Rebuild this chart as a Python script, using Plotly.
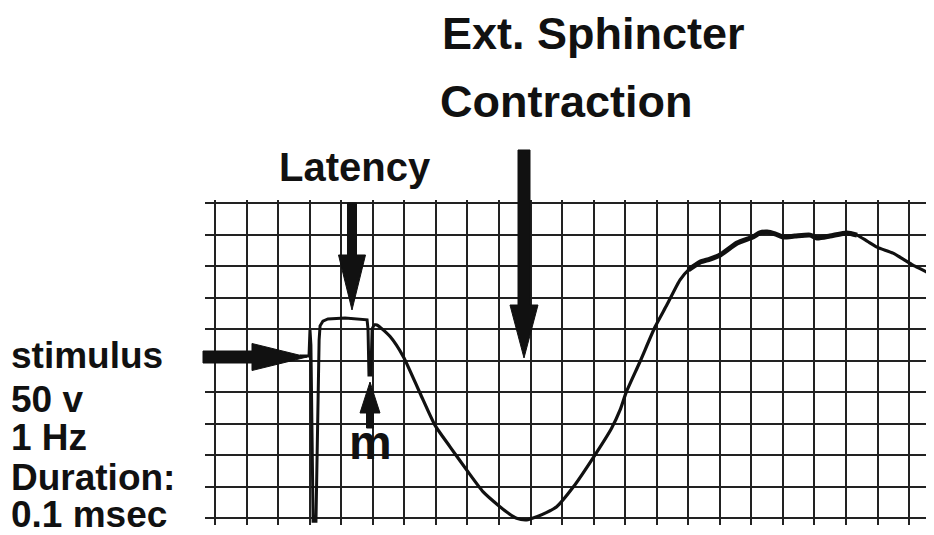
import plotly.graph_objects as go

# ---- data (grid divisions) ----
time_div = [2.69, 2.98, 3.01, 3.04, 3.11, 3.20, 3.30, 3.33, 3.42, 3.58, 4.12, 4.60, 4.82, 4.85,
            4.88, 4.94, 4.98, 5.04, 5.13, 5.55, 5.97, 6.50, 6.97, 7.45, 7.98, 8.50, 9.03,
            9.30, 9.56, 9.88, 10.20, 10.50, 10.83, 11.36, 12.01, 12.57, 12.84, 13.03, 13.47,
            13.95, 14.32, 14.74, 15.00, 15.37, 15.69, 16.01, 16.55, 17.05, 17.27, 17.50,
            17.75, 18.00, 18.38, 18.86, 19.08, 19.49, 20.03, 20.35, 20.67, 20.98, 21.49, 21.81,
            22.12, 22.44, 22.79]
amp_div = [5.14, 5.14, 5.97, 5.49, -0.10, -0.10, 5.65, 6.10, 6.25, 6.32, 6.35, 6.32, 6.29, 6.00,
           4.54, 4.54, 6.00, 6.13, 6.13, 5.76, 5.12, 3.96, 2.95, 2.26, 1.52, 0.83, 0.36,
           0.15, -0.01, -0.06, 0.04, 0.17, 0.36, 0.99, 1.95, 2.85, 3.43, 3.98, 4.96,
           6.07, 6.76, 7.56, 7.87, 8.12, 8.22, 8.35, 8.73, 8.92, 9.05, 9.08,
           9.02, 8.92, 8.95, 8.98, 8.89, 8.95, 9.05, 8.98, 8.79, 8.60, 8.41, 8.22,
           8.03, 7.87, 7.68]
spike_end = 5.04          # end of the sharp stimulus/latency part
thick_from, thick_to = 14.9, 20.4

title_lines = ["Ext. Sphincter", "Contraction"]
latency_label = "Latency"
stim_lines = ["stimulus", "50 v", "1 Hz", "Duration:", "0.1 msec"]
m_label = "m"

# ---- layout geometry (page body has an 8px margin) ----
OFF = 8
W, H = 934 - OFF, 535 - OFF
ML, MR, MT, MB = 205 - OFF, 0, 200 - OFF, 10
X0, X1 = -10 / 31.55, 719 / 31.55
Y0, Y1 = -7 / 31.5, 318 / 31.5
PW, PH = W - ML - MR, H - MT - MB


def px(x, y):
    x, y = x - OFF, y - OFF
    return (x - ML) / PW, (H - MB - y) / PH


def arrow(tip, direction, length, head_len, head_half, shaft_half):
    tx, ty = tip
    if direction == "right":
        pts = [(tx - length, ty - shaft_half), (tx - head_len, ty - shaft_half),
               (tx - head_len, ty - head_half), (tx, ty), (tx - head_len, ty + head_half),
               (tx - head_len, ty + shaft_half), (tx - length, ty + shaft_half)]
    elif direction == "down":
        pts = [(tx - shaft_half, ty - length), (tx - shaft_half, ty - head_len),
               (tx - head_half, ty - head_len), (tx, ty), (tx + head_half, ty - head_len),
               (tx + shaft_half, ty - head_len), (tx + shaft_half, ty - length)]
    else:  # up
        pts = [(tx - shaft_half, ty + length), (tx - shaft_half, ty + head_len),
               (tx - head_half, ty + head_len), (tx, ty), (tx + head_half, ty + head_len),
               (tx + shaft_half, ty + head_len), (tx + shaft_half, ty + length)]
    pp = [px(a, b) for a, b in pts]
    path = "M " + " L ".join(f"{a:.5f},{b:.5f}" for a, b in pp) + " Z"
    return dict(type="path", xref="paper", yref="paper", path=path,
                fillcolor="#111", line=dict(color="#111", width=1), layer="above")


fig = go.Figure()
sx = [t for t in time_div if t <= spike_end]
sy = [a for t, a in zip(time_div, amp_div) if t <= spike_end]
rx = [t for t in time_div if t >= spike_end]
ry = [a for t, a in zip(time_div, amp_div) if t >= spike_end]
fig.add_trace(go.Scatter(x=sx, y=sy, mode="lines",
                         line=dict(color="#111", width=3), hoverinfo="skip"))
fig.add_trace(go.Scatter(x=rx, y=ry, mode="lines",
                         line=dict(color="#111", width=3.2, shape="spline", smoothing=0.6),
                         hoverinfo="skip"))
tx = [t for t in time_div if thick_from <= t <= thick_to]
ty = [a for t, a in zip(time_div, amp_div) if thick_from <= t <= thick_to]
fig.add_trace(go.Scatter(x=tx, y=ty, mode="lines",
                         line=dict(color="#111", width=5, shape="spline", smoothing=0.6),
                         hoverinfo="skip"))

shapes = [
    arrow((307, 357), "right", 104, 55, 13.5, 6),
    arrow((352, 310), "down", 107, 55, 13.5, 4.5),
    arrow((524, 358), "down", 208, 53, 14, 6),
    arrow((370, 382), "up", 46, 31, 10, 3.5),
]
a0, b0 = px(930, 356)
a1, b1 = px(934, 363)
shapes.append(dict(type="rect", xref="paper", yref="paper", x0=a0, x1=a1, y0=b0, y1=b1,
                   fillcolor="#111", line=dict(width=0)))

FONT = "Liberation Sans, Arial, Helvetica, sans-serif"
ann = []


def add_text(text, x, y, size, xanchor="center"):
    ax, ay = px(x, y)
    ann.append(dict(text=text, x=ax, y=ay, xref="paper", yref="paper", showarrow=False,
                    xanchor=xanchor, yanchor="middle",
                    font=dict(family=FONT, size=size, color="#111", weight="bold")))


add_text(title_lines[0], 593, 33, 45)
add_text(title_lines[1], 566, 101, 45)
add_text(latency_label, 355, 167, 40)
for line, yc in zip(stim_lines, [355, 399, 437, 477, 514]):
    add_text(line, 9, yc, 37, xanchor="left")
add_text(m_label, 370, 442, 48)

fig.update_layout(
    width=W, height=H, margin=dict(l=ML, r=MR, t=MT, b=MB, pad=0),
    paper_bgcolor="white", plot_bgcolor="white", showlegend=False,
    shapes=shapes, annotations=ann,
    xaxis=dict(range=[X0, X1], tick0=0, dtick=1, showgrid=True, gridcolor="#222",
               gridwidth=1.6, zeroline=False, showticklabels=False, ticks="",
               showline=False, fixedrange=True),
    yaxis=dict(range=[Y0, Y1], tick0=0, dtick=1, showgrid=True, gridcolor="#222",
               gridwidth=1.6, zeroline=False, showticklabels=False, ticks="",
               showline=False, fixedrange=True),
)
fig.write_html("out.html")
